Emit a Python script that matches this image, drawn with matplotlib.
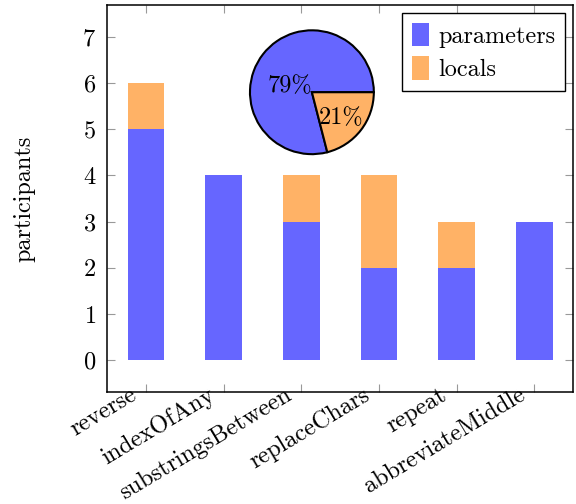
import numpy as np
import matplotlib
matplotlib.use('Agg')
from matplotlib import pyplot as plt
from matplotlib.transforms import ScaledTranslation

plt.rcParams['font.family'] = 'cmr10'
plt.rcParams['mathtext.fontset'] = 'cm'
plt.rcParams['axes.formatter.use_mathtext'] = True
plt.rcParams['axes.unicode_minus'] = False

methods = ['reverse', 'indexOfAny', 'substringsBetween', 'replaceChars', 'repeat', 'abbreviateMiddle']
parameters = [5, 4, 3, 2, 2, 3]
locals_ = [1, 0, 1, 2, 1, 0]
share = [79, 21]
series = ['parameters', 'locals']

blue = '#6666ff'
orange = '#ffb266'
fs = 17.5

fig = plt.figure(figsize=(5.76, 5.04), dpi=100)
ax = fig.add_axes([0.186, 0.222, 0.809, 0.768])
x = np.arange(len(methods))
ax.bar(x, parameters, width=0.47, color=blue, label=series[0])
ax.bar(x, locals_, width=0.47, bottom=parameters, color=orange, label=series[1])
ax.set_xlim(-0.5, 5.5)
ax.set_ylim(-0.69, 7.69)
ax.set_yticks(range(8))
ax.set_xticks(x)
ax.set_xticklabels(methods, rotation=31, ha='right', va='center', rotation_mode='anchor')
ax.tick_params(direction='in', length=6, width=0.8, color='#999999',
               top=True, right=True, labelsize=fs)
ax.tick_params(axis='y', pad=8)
ax.tick_params(axis='x', pad=1)
# shift x labels a bit left, like pgfplots anchor=east
shift = ScaledTranslation(-0.11, 0, fig.dpi_scale_trans)
for lab in ax.get_xticklabels():
    lab.set_transform(lab.get_transform() + shift)
for s in ax.spines.values():
    s.set_linewidth(1.1)
ax.set_ylabel('participants', fontsize=fs, labelpad=34)
leg = ax.legend(loc='upper right', bbox_to_anchor=(0.983, 0.979), borderaxespad=0,
                fontsize=fs, fancybox=False, framealpha=1, edgecolor='black',
                handlelength=0.7, handleheight=1.1, handletextpad=0.4,
                borderpad=0.4, labelspacing=0.35)
leg.get_frame().set_linewidth(1.0)

# pie inset
pax = fig.add_axes([0.434, 0.694, 0.215, 0.246])
wedges, texts = pax.pie(share, colors=[blue, orange], startangle=0, counterclock=True,
                        labels=[f'{v}%' for v in share], labeldistance=None,
                        wedgeprops=dict(edgecolor='black', linewidth=1.5))
for w in wedges:
    w.set_clip_on(False)
pax.set_xlim(-1, 1)
pax.set_ylim(-1, 1)
pax.text(-0.36, 0.1, f'{share[0]}%', ha='center', va='center', fontsize=fs)
pax.text(0.47, -0.41, f'{share[1]}%', ha='center', va='center', fontsize=fs)
pax.set_aspect('equal')

plt.savefig('out.png', dpi=100)
